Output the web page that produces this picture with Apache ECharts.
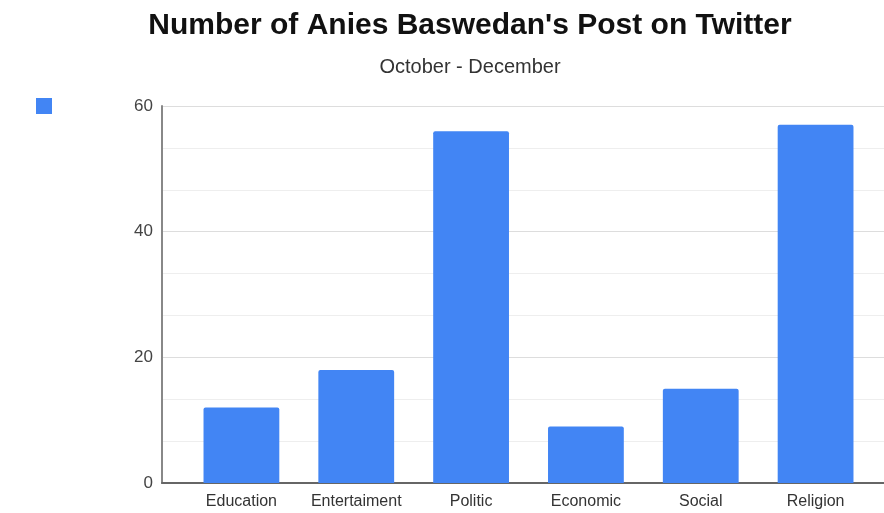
<!DOCTYPE html>
<html>
<head>
<meta charset="utf-8">
<script src="https://cdn.jsdelivr.net/npm/echarts@6/dist/echarts.min.js"></script>
<style>
  html, body { margin: 0; padding: 0; background: #fff; }
  #chart { width: 884px; height: 513px; }
</style>
</head>
<body>
<div id="chart"></div>
<script>
// topics and post counts
var categories = ['Education', 'Entertaiment', 'Politic', 'Economic', 'Social', 'Religion'];
var posts = [12, 18, 56, 9, 15, 57];
var yTicks = [0, 20, 40, 60];

(function() {
  var chart = echarts.init(document.getElementById('chart'), null, { renderer: 'canvas' });
  var font = '"Liberation Sans", Arial, sans-serif';
  var blue = '#4285f4';
  var yMin = yTicks[0], yMax = yTicks[yTicks.length - 1];

  chart.setOption({
    animation: false,
    title: {
      text: "Number of Anies Baswedan's Post on Twitter",
      subtext: 'October - December',
      left: 465,
      textAlign: 'center',
      top: 6,
      itemGap: 16,
      textStyle: { fontFamily: font, fontSize: 30, fontWeight: 'bold', color: '#111' },
      subtextStyle: { fontFamily: font, fontSize: 20, color: '#333' }
    },
    legend: {
      left: 31,
      top: 93,
      icon: 'rect',
      itemWidth: 16,
      itemHeight: 16,
      formatter: function() { return ''; },
      data: ['Posts']
    },
    // grid 0 carries the value axis and gridlines, grid 1 the categories and bars
    grid: [
      { left: 162, right: 0, top: 106, bottom: 30 },
      { left: 184, right: 11, top: 106, bottom: 30 }
    ],
    xAxis: [{
      gridIndex: 0,
      type: 'value',
      min: 0, max: 1,
      axisLine: { show: true, lineStyle: { color: '#666', width: 2 } },
      axisTick: { show: false },
      axisLabel: { show: false },
      splitLine: { show: false }
    }, {
      gridIndex: 1,
      type: 'category',
      data: categories,
      axisLine: { show: false },
      axisTick: { show: false },
      axisLabel: { interval: 0, color: '#333', fontFamily: font, fontSize: 16, margin: 11 }
    }],
    yAxis: [{
      gridIndex: 0,
      type: 'value',
      min: yMin,
      max: yMax,
      interval: 20,
      axisLine: { show: true, lineStyle: { color: '#888', width: 2 } },
      axisTick: { show: false },
      axisLabel: { color: '#444', fontFamily: font, fontSize: 17, margin: 9 },
      splitLine: { lineStyle: { color: '#ddd' } },
      minorTick: { show: false, splitNumber: 3 },
      minorSplitLine: { show: true, lineStyle: { color: '#eee' } }
    }, {
      gridIndex: 1,
      type: 'value',
      min: yMin,
      max: yMax,
      show: false
    }],
    series: [{
      name: 'Posts',
      type: 'bar',
      xAxisIndex: 1,
      yAxisIndex: 1,
      data: posts,
      barCategoryGap: '34%',
      itemStyle: { color: blue, borderRadius: [2, 2, 0, 0] }
    }]
  });
  window.addEventListener('resize', function() { chart.resize(); });
})();
</script>
</body>
</html>
